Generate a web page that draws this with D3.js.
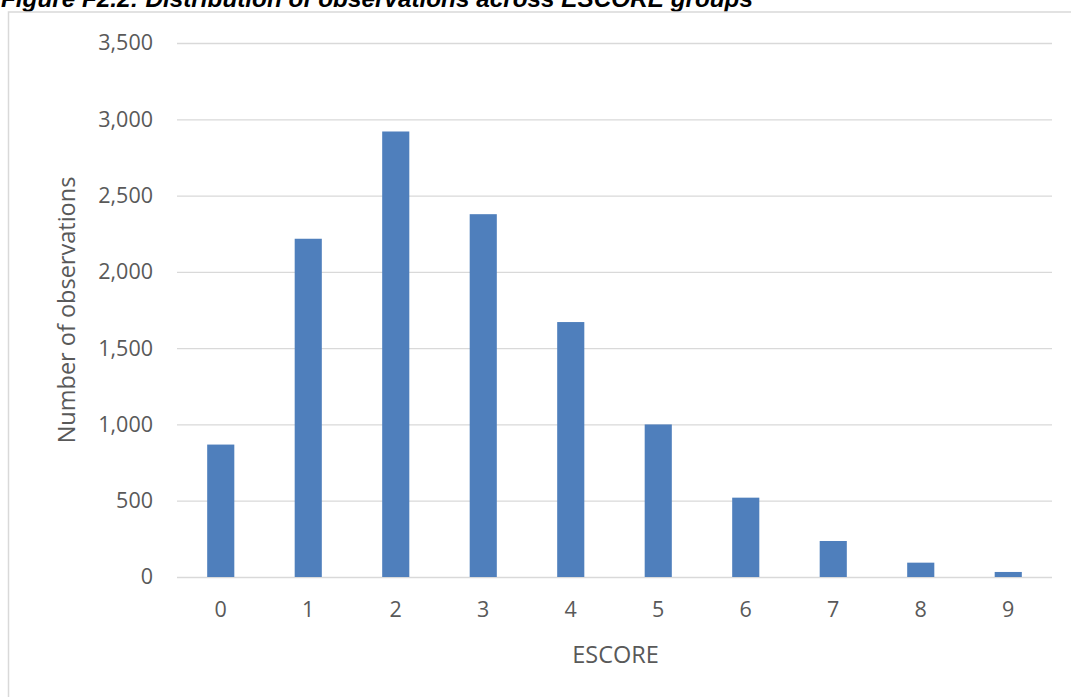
<!DOCTYPE html>
<html>
<head>
<meta charset="utf-8">
<script src="https://cdn.jsdelivr.net/npm/d3@7"></script>
<style>
  html, body { margin: 0; padding: 0; background: #fff; }
  svg { display: block; }
</style>
</head>
<body>
<svg id="chart" width="1071" height="697"></svg>
<script>
// ESCORE groups and number of observations in each
const categories = ["0", "1", "2", "3", "4", "5", "6", "7", "8", "9"];
const observations = [868, 2217, 2920, 2378, 1671, 1000, 520, 236, 94, 33];
const yTicks = [0, 500, 1000, 1500, 2000, 2500, 3000, 3500];

const W = 1071, H = 697;
const margin = { left: 177, right: 19, top: 43, bottom: 119 };
const svg = d3.select("#chart");

// Figure title (runs off the top edge of the page)
svg.append("text")
  .attr("x", 1).attr("y", 7)
  .attr("font-family", "Liberation Sans, Arial, sans-serif")
  .attr("font-weight", "bold").attr("font-style", "italic")
  .attr("font-size", 24.3).attr("fill", "#000")
  .text("Figure F2.2: Distribution of observations across ESCORE groups");

// Chart frame
svg.append("path")
  .attr("d", `M8.5,${H} V12 H${W}`)
  .attr("fill", "none").attr("stroke", "#d9d9d9").attr("stroke-width", 1.5);

const x = d3.scaleBand()
  .domain(categories)
  .range([margin.left, W - margin.right])
  .paddingInner(0.69).paddingOuter(0.345);

const y = d3.scaleLinear()
  .domain([0, 3500])
  .range([H - margin.bottom - 1, margin.top]);

const font = "Open Sans, Lato, sans-serif";

// Horizontal gridlines and y tick labels
const yAxis = d3.axisLeft(y).tickValues(yTicks)
  .tickSize(-(W - margin.left - margin.right))
  .tickPadding(24)
  .tickFormat(d3.format(","));
const gy = svg.append("g").attr("transform", `translate(${margin.left},0)`).call(yAxis);
gy.select(".domain").remove();
gy.selectAll(".tick line").attr("stroke", "#d9d9d9").attr("stroke-width", 1.3);
gy.selectAll(".tick text")
  .attr("font-family", font).attr("font-size", 21.5).attr("fill", "#595959");

// Bars
svg.append("g").selectAll("rect")
  .data(observations)
  .join("rect")
  .attr("x", (d, i) => x(categories[i]))
  .attr("width", x.bandwidth())
  .attr("y", d => y(d))
  .attr("height", d => y(0) - y(d))
  .attr("fill", "#4f7fbc");

// X tick labels
const xAxis = d3.axisBottom(x).tickSize(0).tickPadding(25);
const gx = svg.append("g").attr("transform", `translate(0,${y(0)})`).call(xAxis);
gx.select(".domain").remove();
gx.selectAll(".tick text")
  .attr("font-family", font).attr("font-size", 21.5).attr("fill", "#595959");

// Axis titles
svg.append("text")
  .attr("x", (margin.left + W - margin.right) / 2 + 1).attr("y", 663)
  .attr("text-anchor", "middle")
  .attr("font-family", font).attr("font-size", 23.5).attr("fill", "#595959")
  .text("ESCORE");

svg.append("text")
  .attr("transform", "translate(75,310) rotate(-90)")
  .attr("text-anchor", "middle")
  .attr("font-family", font).attr("font-size", 23.5).attr("fill", "#595959")
  .text("Number of observations");
</script>
</body>
</html>
